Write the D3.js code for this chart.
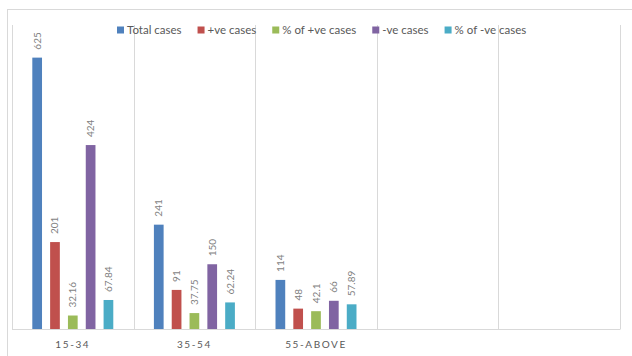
<!DOCTYPE html>
<html>
<head>
<meta charset="utf-8">
<script src="https://cdn.jsdelivr.net/npm/d3@7"></script>
<style>
  html, body { margin: 0; padding: 0; background: #fff; }
  svg { display: block; font-family: Lato, "Open Sans", sans-serif; }
</style>
</head>
<body>
<svg id="chart" width="632" height="356"></svg>
<script>
// Age groups (the last two slots are empty category rows)
const categories = ["15-34", "35-54", "55-ABOVE", "", ""];
const seriesNames = ["Total cases", "+ve cases", "% of +ve cases", "-ve cases", "% of -ve cases"];
const totalCases = [625, 241, 114];
const positiveCases = [201, 91, 48];
const positivePct = [32.16, 37.75, 42.1];
const negativeCases = [424, 150, 66];
const negativePct = [67.84, 62.24, 57.89];
const seriesColors = ["#4F81BD", "#C0504D", "#9BBB59", "#8064A2", "#4BACC6"];
const yMax = 700;

const seriesValues = [totalCases, positiveCases, positivePct, negativeCases, negativePct];

const svg = d3.select("#chart");
const plot = { left: 12, right: 620, top: 25, bottom: 329.5 };

// chart area border
svg.append("rect")
  .attr("x", 7.5).attr("y", 9.5)
  .attr("width", 700).attr("height", 400)
  .attr("fill", "none").attr("stroke", "#d9d9d9").attr("stroke-width", 1);

const x0 = d3.scaleBand()
  .domain(d3.range(categories.length))
  .range([plot.left, plot.right])
  .padding(0);

const bw = x0.bandwidth();
const x1 = d3.scaleBand()
  .domain(d3.range(seriesNames.length))
  .range([bw * 0.167, bw * 0.833])
  .paddingInner(0.455)
  .paddingOuter(0);

const y = d3.scaleLinear().domain([0, yMax]).range([plot.bottom, plot.top]);

// vertical category separators
const edges = d3.range(categories.length + 1).map(i => plot.left + i * bw);
svg.append("g").selectAll("line")
  .data(edges)
  .join("line")
  .attr("x1", d => Math.round(d) + 0.5).attr("x2", d => Math.round(d) + 0.5)
  .attr("y1", plot.top).attr("y2", plot.bottom)
  .attr("stroke", "#d9d9d9").attr("stroke-width", 1);

// bars
const bars = [];
categories.forEach((c, ci) => {
  seriesValues.forEach((vals, si) => {
    if (vals[ci] !== undefined) bars.push({ ci, si, v: vals[ci] });
  });
});

const g = svg.append("g");
g.selectAll("rect.bar")
  .data(bars)
  .join("rect")
  .attr("class", "bar")
  .attr("x", d => x0(d.ci) + x1(d.si))
  .attr("y", d => y(d.v))
  .attr("width", x1.bandwidth())
  .attr("height", d => y(0) - y(d.v))
  .attr("fill", d => seriesColors[d.si]);

// value labels, rotated
g.selectAll("text.val")
  .data(bars)
  .join("text")
  .attr("class", "val")
  .attr("transform", d => {
    const cx = x0(d.ci) + x1(d.si) + x1.bandwidth() / 2;
    return `translate(${cx},${y(d.v) - 8}) rotate(-90)`;
  })
  .attr("dy", "0.35em")
  .attr("text-anchor", "start")
  .attr("font-size", 10)
  .attr("fill", "#7f7f7f")
  .text(d => d.v);

// x axis
const xAxis = d3.axisBottom(x0).tickSize(0).tickFormat(i => categories[i]);
const ax = svg.append("g")
  .attr("transform", `translate(0,${plot.bottom})`)
  .call(xAxis);
ax.select(".domain").attr("stroke", "#d9d9d9").attr("d", `M${plot.left},0H${plot.right}`);
ax.selectAll("text")
  .attr("dy", "0")
  .attr("y", 18)
  .attr("font-size", 10)
  .attr("font-family", "Lato, 'Open Sans', sans-serif")
  .attr("letter-spacing", "1.6px")
  .attr("fill", "#595959");

// legend
const legend = svg.append("g").attr("transform", "translate(117,30)");
let lx = 0;
seriesNames.forEach((name, i) => {
  const item = legend.append("g").attr("transform", `translate(${lx},0)`);
  item.append("rect")
    .attr("x", 0).attr("y", -3.5)
    .attr("width", 7).attr("height", 7)
    .attr("fill", seriesColors[i]);
  const t = item.append("text")
    .attr("x", 10).attr("y", 0)
    .attr("dy", "0.35em")
    .attr("font-size", 11.5)
    .attr("fill", "#595959")
    .text(name);
  lx += 10 + t.node().getComputedTextLength() + 16;
});
</script>
</body>
</html>
